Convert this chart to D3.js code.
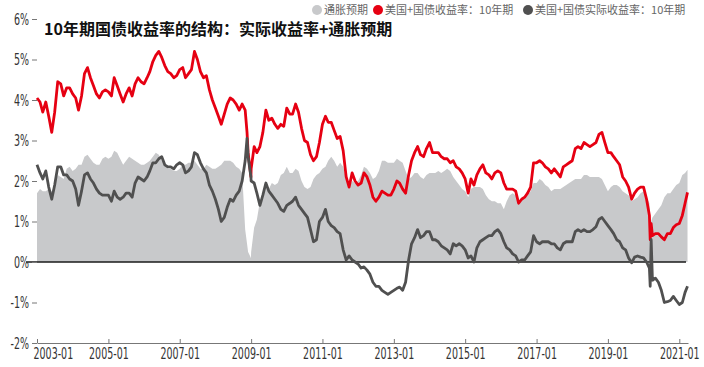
<!DOCTYPE html>
<html>
<head>
<meta charset="utf-8">
<script src="https://cdn.jsdelivr.net/npm/d3@7"></script>
<style>
  body { margin: 0; background: #fff; }
  svg { display: block; }
</style>
</head>
<body>
<svg id="chart"></svg>
<script>
// monthly readings, Jan 2003 .. Mar 2021 (one value per month start)
var firstMonth = "2003-01";
var nominal = [
  4.05, 3.95, 3.7, 3.95, 3.6, 3.2, 3.7, 4.45, 4.4, 4.1, 4.3, 4.3,
  4.15, 4.05, 3.75, 4.1, 4.65, 4.8, 4.55, 4.35, 4.15, 4.05, 4.2, 4.25,
  4.2, 4.1, 4.55, 4.35, 4.15, 3.95, 4.15, 4.3, 4.1, 4.4, 4.55, 4.45,
  4.4, 4.55, 4.7, 4.95, 5.1, 5.2, 5.05, 4.85, 4.7, 4.65, 4.55, 4.6,
  4.75, 4.8, 4.55, 4.65, 4.75, 5.2, 5.0, 4.7, 4.55, 4.6, 4.25, 4.0,
  3.8, 3.6, 3.4, 3.65, 3.9, 4.05, 4.0, 3.9, 3.75, 3.9, 3.75, 2.7,
  2.3, 2.85, 2.7, 2.85, 3.2, 3.75, 3.5, 3.55, 3.4, 3.3, 3.4, 3.35,
  3.8, 3.65, 3.65, 3.9, 3.7, 3.3, 3.0, 2.95, 2.65, 2.5, 2.6, 2.95,
  3.4, 3.6, 3.45, 3.45, 3.25, 3.05, 3.1, 2.75, 2.1, 1.85, 2.2, 2.0,
  1.9, 1.95, 2.2, 2.1, 1.9, 1.6, 1.5, 1.6, 1.75, 1.7, 1.65, 1.65,
  1.8, 2.0, 1.95, 1.8, 1.7, 2.15, 2.5, 2.7, 2.85, 2.65, 2.6, 2.8,
  2.95, 2.7, 2.7, 2.7, 2.6, 2.55, 2.55, 2.45, 2.5, 2.35, 2.3, 2.2,
  2.05, 1.7, 2.05, 1.9, 2.15, 2.3, 2.4, 2.2, 2.15, 2.05, 2.2, 2.25,
  2.2, 1.95, 1.8, 1.8, 1.8, 1.75, 1.45, 1.55, 1.6, 1.7, 1.85, 2.45,
  2.45, 2.5, 2.45, 2.35, 2.3, 2.2, 2.3, 2.2, 2.1, 2.35, 2.4, 2.45,
  2.5, 2.8, 2.85, 2.8, 2.95, 2.9, 2.85, 2.9, 2.95, 3.15, 3.2, 2.95,
  2.7, 2.7, 2.6, 2.5, 2.4, 2.1, 2.0, 1.85, 1.55, 1.7, 1.8, 1.85,
  1.85, 1.55, 1.15, 0.65, 0.7, 0.7, 0.62, 0.55, 0.7, 0.7, 0.85, 0.92,
  0.95, 1.15, 1.45
];
var real = [
  2.4, 2.2, 2.05, 2.25, 1.85, 1.55, 1.9, 2.35, 2.35, 2.15, 2.15, 2.05,
  2.0, 1.8, 1.4, 1.75, 2.15, 2.2, 2.05, 1.95, 1.8, 1.7, 1.65, 1.65,
  1.65, 1.5, 1.75, 1.6, 1.55, 1.6, 1.7, 1.7, 1.6, 1.95, 2.1, 2.05,
  2.0, 2.1, 2.25, 2.45, 2.45, 2.55, 2.6, 2.4, 2.35, 2.35, 2.3, 2.4,
  2.45, 2.4, 2.2, 2.25, 2.35, 2.7, 2.65, 2.45, 2.3, 2.2, 1.9, 1.75,
  1.55, 1.3, 1.0, 1.1, 1.35, 1.55, 1.5, 1.65, 1.75, 2.0, 2.5, 2.6,
  2.0, 1.95, 1.7, 1.4, 1.65, 1.95, 1.75, 1.65, 1.55, 1.45, 1.3, 1.25,
  1.4, 1.45, 1.5, 1.6, 1.4, 1.3, 1.2, 1.1, 0.8, 0.5, 0.55, 1.0,
  1.1, 1.3, 1.0, 0.9, 0.85, 0.75, 0.7, 0.3, 0.05, 0.15, 0.05, 0.0,
  -0.05, -0.15, -0.12, -0.2, -0.3, -0.5, -0.6, -0.6, -0.7, -0.75, -0.8, -0.75,
  -0.7, -0.65, -0.62, -0.7, -0.5, 0.05, 0.45, 0.6, 0.8, 0.6, 0.65, 0.75,
  0.75, 0.55, 0.55, 0.5, 0.4, 0.35, 0.3, 0.2, 0.45, 0.4, 0.45, 0.4,
  0.3, 0.1, 0.15, 0.0, 0.35, 0.5, 0.55, 0.6, 0.65, 0.65, 0.75, 0.8,
  0.7, 0.5, 0.35, 0.3, 0.2, 0.15, 0.0, 0.05, 0.05, 0.15, 0.25, 0.65,
  0.5, 0.45, 0.5, 0.5, 0.5, 0.45, 0.45, 0.35, 0.3, 0.45, 0.5, 0.5,
  0.5, 0.75, 0.8, 0.75, 0.8, 0.75, 0.75, 0.8, 0.87, 1.05, 1.1, 1.0,
  0.9, 0.8, 0.7, 0.55, 0.5, 0.35, 0.3, 0.1, -0.02, 0.12, 0.15, 0.12,
  0.1, 0.0, -0.15, -0.45, -0.4, -0.5, -0.7, -1.0, -0.98, -0.95, -0.85, -0.95,
  -1.05, -1.0, -0.75
];
var breakeven = [
  1.7, 1.8, 1.75, 1.75, 1.8, 1.75, 1.9, 2.15, 2.1, 2.05, 2.3, 2.35,
  2.25, 2.3, 2.4, 2.4, 2.6, 2.65, 2.55, 2.45, 2.4, 2.4, 2.55, 2.6,
  2.55, 2.6, 2.75, 2.7, 2.55, 2.4, 2.5, 2.6, 2.55, 2.5, 2.45, 2.4,
  2.4, 2.45, 2.5, 2.6, 2.7, 2.65, 2.5, 2.45, 2.3, 2.3, 2.25, 2.25,
  2.3, 2.4, 2.4, 2.45, 2.45, 2.5, 2.4, 2.3, 2.3, 2.4, 2.35, 2.3,
  2.3, 2.35, 2.4, 2.5, 2.5, 2.5, 2.45, 2.35, 2.3, 2.2, 0.8, 0.25,
  0.25, 0.85, 1.05, 1.5, 1.65, 1.9, 1.8, 1.95, 1.9, 1.95, 2.15, 2.2,
  2.35, 2.2, 2.2, 2.3, 2.25, 2.0, 1.85, 1.8, 1.85, 2.05, 2.15, 2.2,
  2.3, 2.35, 2.5, 2.6, 2.5, 2.35, 2.45, 2.35, 2.05, 1.85, 2.0, 1.95,
  2.0, 2.15, 2.35, 2.3, 2.2, 2.05, 2.1, 2.25, 2.5, 2.5, 2.45, 2.45,
  2.45, 2.55, 2.5, 2.45, 2.25, 2.05, 2.1, 2.2, 2.2, 2.1, 2.05, 2.15,
  2.2, 2.2, 2.2, 2.25, 2.2, 2.25, 2.3, 2.25, 2.1, 2.0, 1.9, 1.8,
  1.75, 1.6, 1.8, 1.85, 1.85, 1.85, 1.8, 1.65, 1.55, 1.5, 1.5, 1.45,
  1.45, 1.3, 1.5, 1.65, 1.7, 1.65, 1.5, 1.55, 1.6, 1.65, 1.75, 1.95,
  1.95, 2.05, 2.0, 1.9, 1.85, 1.75, 1.8, 1.8, 1.8, 1.85, 1.9, 1.95,
  2.0, 2.05, 2.05, 2.05, 2.15, 2.15, 2.1, 2.1, 2.1, 2.1, 2.05, 1.9,
  1.75, 1.85, 1.9, 1.9, 1.85, 1.75, 1.7, 1.65, 1.5, 1.55, 1.6, 1.7,
  1.75, 1.6, 1.45, 1.1, 1.2, 1.3, 1.4, 1.6, 1.7, 1.7, 1.8, 1.9,
  1.95, 2.15, 2.2
];

// a few extra readings where the lines move sharply inside a month
var extraDates = ["2008-11-20", "2008-12-30", "2020-03-09", "2020-03-19", "2021-03-26"];
var extraNominal = [3.2, 2.1, 0.55, 0.95, 1.72];
var extraReal = [3.05, 2.1, -0.6, 0.55, -0.6];
var extraBreakeven = [0.45, 0.1, 1.0, 1.0, 2.28];

var yTicks = [-2, -1, 0, 1, 2, 3, 4, 5, 6];
var xTickYears = [2003, 2005, 2007, 2009, 2011, 2013, 2015, 2017, 2019, 2021];
var seriesNames = ["通胀预期", "美国+国债收益率：10年期", "美国+国债实际收益率：10年期"];
var titleText = "10年期国债收益率的结构：实际收益率+通胀预期";

var width = 704, height = 367;
var red = "#e60012", dark = "#505050", gray = "#c8c9cb";
var tickFont = "'DejaVu Sans Condensed', sans-serif";
var cjkFont = "'Noto Sans CJK SC', 'Noto Sans', sans-serif";
var squeeze = 0.66;

var parseDay = d3.timeParse("%Y-%m-%d");
var parseMonth = d3.timeParse("%Y-%m");

// build rows
var start = parseMonth(firstMonth);
var rows = nominal.map(function(v, i) {
  return { date: d3.timeMonth.offset(start, i), nominal: v, real: real[i], be: breakeven[i] };
});
extraDates.forEach(function(d, i) {
  rows.push({ date: parseDay(d), nominal: extraNominal[i], real: extraReal[i], be: extraBreakeven[i] });
});
rows.sort(function(a, b) { return a.date - b.date; });

var svg = d3.select("#chart").attr("width", width).attr("height", height);

var x = d3.scaleTime()
  .domain([parseDay("2003-01-01"), parseDay("2021-03-31")])
  .range([37, 688]);
var y = d3.scaleLinear().domain([-2, 6]).range([343, 19]);

// breakeven area
svg.append("path")
  .datum(rows)
  .attr("fill", gray)
  .attr("d", d3.area()
    .x(function(d) { return x(d.date); })
    .y0(y(0))
    .y1(function(d) { return y(d.be); }));

// zero line
svg.append("line")
  .attr("x1", 26).attr("x2", 686)
  .attr("y1", y(0)).attr("y2", y(0))
  .attr("stroke", "#1a1a1a").attr("stroke-width", 1.5);

var line = function(key) {
  return d3.line()
    .x(function(d) { return x(d.date); })
    .y(function(d) { return y(d[key]); });
};

svg.append("path").datum(rows)
  .attr("fill", "none").attr("stroke", red).attr("stroke-width", 2.8)
  .attr("stroke-linejoin", "round")
  .attr("d", line("nominal"));

svg.append("path").datum(rows)
  .attr("fill", "none").attr("stroke", dark).attr("stroke-width", 2.8)
  .attr("stroke-linejoin", "round")
  .attr("d", line("real"));

// y axis (ticks only)
var yAxis = svg.append("g")
  .attr("transform", "translate(37,0)")
  .call(d3.axisLeft(y).tickValues(yTicks).tickSize(5).tickPadding(3)
    .tickFormat(function(d) { return d + "%"; }));
yAxis.select(".domain").remove();
yAxis.selectAll("line").attr("stroke", "#777");
yAxis.selectAll("text")
  .attr("x", -8 / squeeze)
  .attr("transform", "scale(" + squeeze + ",1)")
  .style("font-family", tickFont).style("font-size", "16px").attr("fill", "#333");

// x axis
var xAxis = svg.append("g")
  .attr("transform", "translate(0,343)")
  .call(d3.axisBottom(x)
    .tickValues(xTickYears.map(function(yr) { return new Date(yr, 0, 1); }))
    .tickSizeInner(-4).tickSizeOuter(0).tickPadding(5)
    .tickFormat(d3.timeFormat("%Y-%m")));
xAxis.select(".domain").attr("stroke", "#777");
xAxis.selectAll("line").attr("stroke", "#777");
xAxis.selectAll("text")
  .attr("transform", "scale(" + squeeze + ",1)")
  .style("font-family", tickFont).style("font-size", "16px").attr("fill", "#333");
xAxis.select(".tick text")
  .attr("text-anchor", "start")
  .attr("x", -4 / squeeze);

// title
svg.append("text")
  .attr("x", 44).attr("y", 35)
  .style("font-family", cjkFont).style("font-size", "16px").style("font-weight", "bold")
  .attr("fill", "#111")
  .text(titleText);

// legend
var legendColors = [gray, red, dark];
var legendX = [312, 373, 523];
var legend = svg.append("g").attr("class", "legend");
seriesNames.forEach(function(name, i) {
  var g = legend.append("g").attr("transform", "translate(" + legendX[i] + ",10)");
  g.append("circle").attr("cx", 5).attr("cy", 0).attr("r", 5).attr("fill", legendColors[i]);
  g.append("text").attr("x", 12).attr("y", 4)
    .style("font-family", cjkFont).style("font-size", "11px")
    .attr("fill", "#666")
    .text(name);
});
</script>
</body>
</html>
